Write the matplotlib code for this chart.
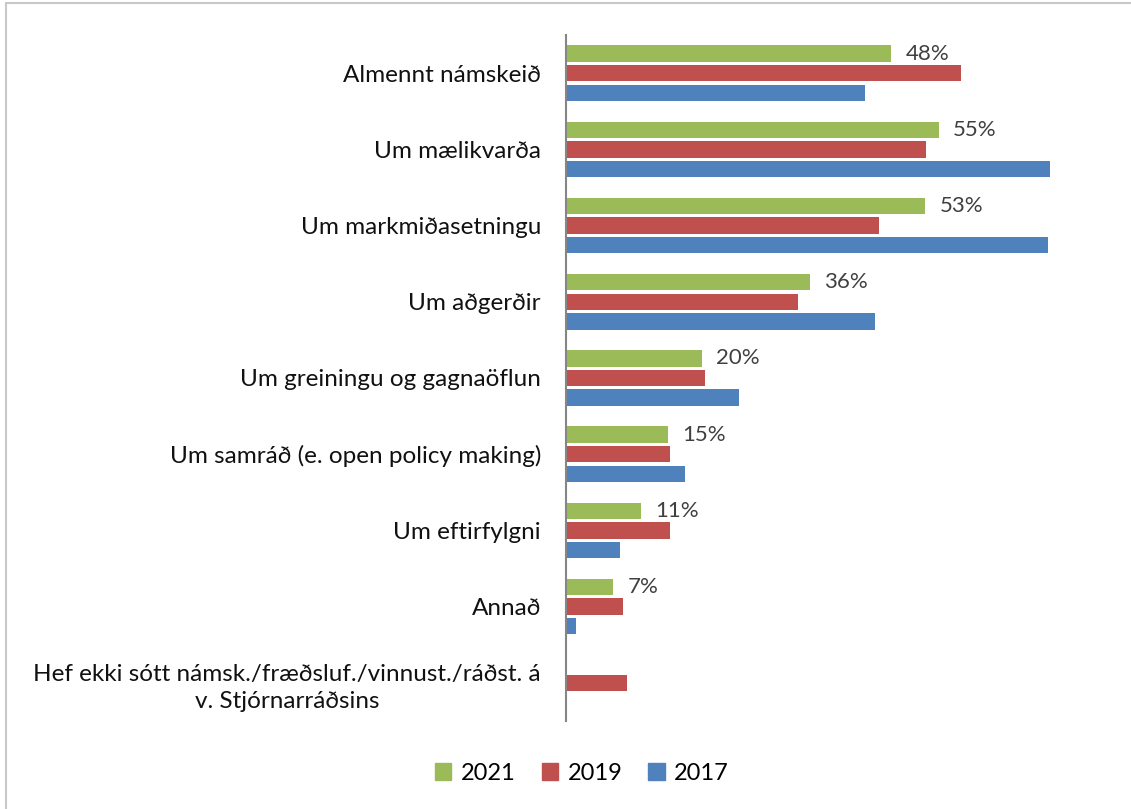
import matplotlib
matplotlib.use('Agg')

import numpy as np
import matplotlib.pyplot as plt
from matplotlib.patches import Patch, Rectangle

# --- data ---
categories = [
    'Almennt námskeið',
    'Um mælikvarða',
    'Um markmiðasetningu',
    'Um aðgerðir',
    'Um greiningu og gagnaöflun',
    'Um samráð (e. open policy making)',
    'Um eftirfylgni',
    'Annað',
    'Hef ekki sótt námsk./fræðsluf./vinnust./ráðst. á\nv. Stjórnarráðsins',
]
v2021 = [0.48, 0.55, 0.53, 0.36, 0.20, 0.15, 0.11, 0.07, 0.0]
v2019 = [0.583, 0.532, 0.462, 0.343, 0.205, 0.154, 0.154, 0.084, 0.09]
v2017 = [0.442, 0.715, 0.712, 0.456, 0.256, 0.176, 0.080, 0.015, 0.0]
labels_2021 = ['48%', '55%', '53%', '36%', '20%', '15%', '11%', '7%', '']

series = [('2021', v2021, '#9BBB59'),
          ('2019', v2019, '#C0504D'),
          ('2017', v2017, '#4F81BD')]

plt.rcParams['font.family'] = ['Lato', 'DejaVu Sans']

W, H = 1131, 809
fig = plt.figure(figsize=(W / 100, H / 100), dpi=100)

# light grey frame (top and left visible)
fig.patches.append(Rectangle((6 / W, -0.1), 1.2, (H - 3) / H + 0.1,
                             transform=fig.transFigure, fill=False,
                             edgecolor='#c8c8c8', linewidth=1.5))

ax = fig.add_axes([566 / W, 88 / H, 542 / W, 686 / H])

y = np.arange(len(categories))
step = 0.257
height = 0.215
for i, (name, vals, col) in enumerate(series):
    ax.barh(y + (i - 1) * step, vals, height=height, color=col, label=name)

for yi, v, lab in zip(y, v2021, labels_2021):
    if lab:
        ax.text(v + 0.021, yi - step, lab, va='center', ha='left',
                fontsize=16, color='#404040')

ax.set_xlim(0, 0.8)
ax.set_ylim(len(categories) - 0.5, -0.5)
ax.set_yticks(y)
ax.set_yticklabels(categories, fontsize=17.5, multialignment='center',
                   color='#111111', linespacing=1.35)
ax.tick_params(axis='y', length=0, pad=18)
ax.set_xticks([])
for s in ['top', 'right', 'bottom']:
    ax.spines[s].set_visible(False)
ax.spines['left'].set_color('#868686')
ax.spines['left'].set_linewidth(1.5)

handles = [Patch(color=c, label=n) for n, _, c in series]
fig.legend(handles=handles, loc='center', bbox_to_anchor=(582 / W, 36 / H),
           ncol=3, frameon=False, fontsize=17, handlelength=0.7,
           handleheight=0.7, handletextpad=0.4, columnspacing=1.1)

fig.savefig('out.png', dpi=100)
